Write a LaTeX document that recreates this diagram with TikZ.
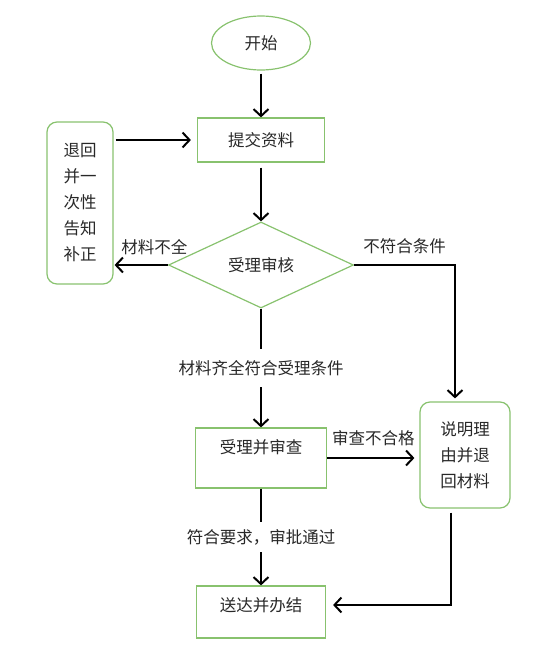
\documentclass[tikz,border=0pt]{standalone}
\usepackage{fontspec}
\newfontfamily\cjk{Noto Sans CJK SC}
\usetikzlibrary{shapes,arrows.meta}
\usetikzlibrary{positioning}
\definecolor{boxgreen}{RGB}{136,194,110}
\definecolor{inkgray}{RGB}{40,40,40}

\begin{document}
\begin{tikzpicture}[x=1pt,y=-1pt,->,>={Straight Barb[length=7pt,width=15pt]},line width=2pt,
	font=\cjk\fontsize{16.5}{26}\selectfont,text=inkgray,
	flow box/.style={rectangle,draw=boxgreen,line width=1.2pt,align=center,inner sep=0pt},
	start node/.style={ellipse,draw=boxgreen,line width=1.2pt,minimum width=99pt,minimum height=54pt,inner sep=0pt},
	check node/.style={diamond,draw=boxgreen,line width=1.2pt,aspect=2.15,minimum width=185pt,minimum height=86pt,inner sep=0pt},
	side box/.style={rectangle,rounded corners=10pt,draw=boxgreen,line width=1.2pt,align=center,inner sep=0pt},
	cut label/.style={fill=white,inner xsep=2pt}]
	\useasboundingbox (0,0) rectangle (554,646);

	\node[start node] (start) at (261,43) {开始};
	\node[flow box,minimum width=127pt,minimum height=44pt] (submit) [below of=start,node distance=97pt] {提交资料};
	\node[check node] (check) [below of=submit,node distance=125pt] {受理审核};
	\node[flow box,minimum width=131pt,minimum height=60pt] (review) [below of=check,node distance=193pt] {受理并审查\\[-4pt]~};
	\node[flow box,minimum width=129pt,minimum height=52pt] (done) [below of=review,node distance=154pt] {送达并办结\\[-12pt]~};
	\node[side box,minimum width=66pt,minimum height=162pt] (back) at (80,203) {退回\\并一\\次性\\告知\\补正};
	\node[side box,minimum width=90pt,minimum height=106pt] (reject) at (465,455) {说明理\\由并退\\回材料};

	\path
		(start) edge [shorten <=3pt] (submit)
		(submit) edge [shorten <=5pt] (check)
		(back.east |- submit) edge [shorten <=2pt,shorten >=6pt] (submit)
		(check) edge [shorten >=1pt] node [above=6pt,pos=0.25] {材料不全} (check -| back.east)
			edge node [cut label,inner ysep=11pt] {材料齐全符合受理条件} (review)
		(review) edge [shorten >=5pt] node [above=8pt] {审查不合格} (review -| reject.west)
			edge node [cut label,inner ysep=7pt] {符合要求，审批通过} (done);

	\draw[shorten >=3pt] (check.east) -| node [above=7pt,pos=0.25] {不符合条件} ([xshift=-10pt]reject.north);
	\draw[shorten <=4pt,shorten >=7pt] ([xshift=-14pt]reject.south) |- ([yshift=7pt]done.east);
\end{tikzpicture}
\end{document}
